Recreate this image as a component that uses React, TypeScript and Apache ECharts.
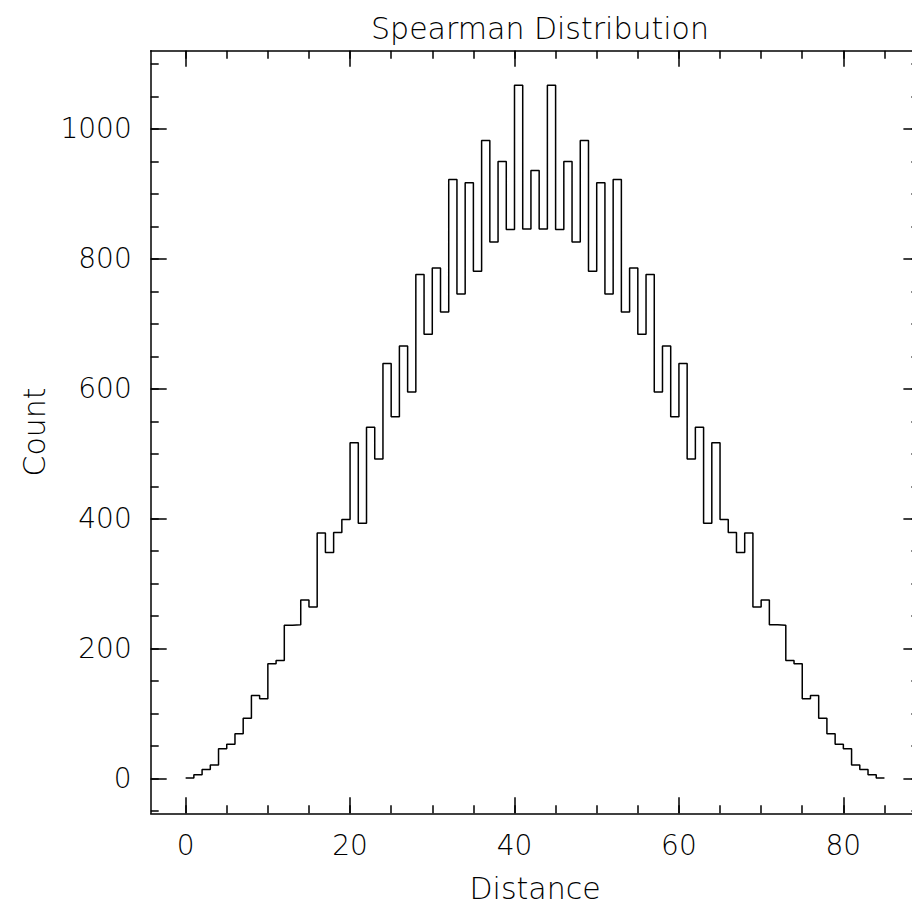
import React, { useEffect, useRef } from "react";
import * as echarts from "echarts";

// Histogram: bin i covers [i, i+1)
const counts: number[] = [
  1, 6, 14, 21, 46, 53, 69, 93, 128, 123,
  177, 182, 236, 237, 275, 264, 378, 348, 379, 399,
  517, 393, 541, 492, 639, 557, 666, 595, 776, 684,
  786, 718, 922, 746, 917, 781, 982, 826, 950, 845,
  1067, 846, 936, 846, 1067, 845, 950, 826, 982, 781,
  917, 746, 922, 718, 786, 684, 776, 595, 666, 557,
  639, 492, 541, 393, 517, 399, 379, 348, 378, 264,
  275, 237, 236, 182, 177, 123, 128, 93, 69, 53,
  46, 21, 14, 6, 1,
];
const binStart = 0;
const binWidth = 1;

const xMajorTicks = [0, 20, 40, 60, 80];
const xMinorTicks = [0, 5, 10, 15, 20, 25, 30, 35, 40, 45, 50, 55, 60, 65, 70, 75, 80, 85];
const yMajorTicks = [0, 200, 400, 600, 800, 1000];
const yMinorTicks = [-50, 0, 50, 100, 150, 200, 250, 300, 350, 400, 450, 500, 550, 600, 650, 700, 750, 800, 850, 900, 950, 1000, 1050, 1100];

const X_MIN = -4.25;
const X_MAX = 89.25;
const Y_MIN = -53.35;
const Y_MAX = 1120.35;

const TITLE = "Spearman Distribution";
const X_NAME = "Distance";
const Y_NAME = "Count";

const FONT = "'DejaVu Sans', sans-serif";

export default function App() {
  const ref = useRef<HTMLDivElement>(null);

  useEffect(() => {
    if (!ref.current) return;
    const chart = echarts.init(ref.current, undefined, { renderer: "svg" });

    const data: number[][] = counts.map((c, i) => [binStart + i * binWidth, c]);
    data.push([binStart + counts.length * binWidth, counts[counts.length - 1]]);

    const lineStyle = { color: "#000", width: 1.5 };
    const txt = { color: "#000", fontFamily: FONT, fontSize: 28, fontWeight: 200 as any };
    const nameTxt = { ...txt, fontSize: 30 };

    const mkX = (position: "top" | "bottom", major: boolean, main: boolean) => ({
      type: "value",
      position,
      min: X_MIN,
      max: X_MAX,
      axisLine: { show: main, onZero: false, lineStyle },
      axisTick: {
        show: true,
        inside: true,
        length: major ? 16 : 8,
        customValues: major ? xMajorTicks : xMinorTicks,
        lineStyle,
      },
      axisLabel: main && position === "bottom"
        ? { show: true, customValues: xMajorTicks, margin: 18, formatter: (v: number) => String(v), ...txt }
        : { show: false },
      splitLine: { show: false },
      ...(main && position === "bottom"
        ? { name: X_NAME, nameLocation: "middle", nameGap: 60, nameTextStyle: { ...nameTxt } }
        : {}),
    });

    const mkY = (position: "left" | "right", major: boolean, main: boolean) => ({
      type: "value",
      position,
      offset: 0,
      min: Y_MIN,
      max: Y_MAX,
      axisLine: { show: main, onZero: false, lineStyle },
      axisTick: {
        show: true,
        inside: true,
        length: major ? 16 : 8,
        customValues: major ? yMajorTicks : yMinorTicks,
        lineStyle,
      },
      axisLabel: main && position === "left"
        ? { show: true, customValues: yMajorTicks, margin: 19, formatter: (v: number) => String(v), ...txt }
        : { show: false },
      splitLine: { show: false },
      ...(main && position === "left"
        ? { name: Y_NAME, nameLocation: "middle", nameGap: 92, nameRotate: 90, nameTextStyle: { ...nameTxt } }
        : {}),
    });

    chart.setOption({
      animation: false,
      backgroundColor: "#fff",
      title: {
        text: TITLE,
        left: 535,
        top: 8,
        textAlign: "center",
        textStyle: { ...nameTxt },
      },
      grid: { left: 150.7, top: 50.7, width: 768.7, height: 762.6, containLabel: false },
      xAxis: [
        mkX("bottom", true, true),
        mkX("bottom", false, false),
        mkX("top", true, true),
        mkX("top", false, false),
      ],
      yAxis: [
        mkY("left", true, true),
        mkY("left", false, false),
        mkY("right", true, true),
        mkY("right", false, false),
      ],
      series: [
        {
          type: "line",
          step: "end",
          data,
          xAxisIndex: 0,
          yAxisIndex: 0,
          symbol: "none",
          lineStyle: { color: "#000", width: 1.5 },
        },
      ],
    });

    return () => chart.dispose();
  }, []);

  return (
    <div style={{ position: "fixed", left: 0, top: 0, width: 912, height: 909, overflow: "hidden", background: "#fff" }}>
      <div ref={ref} style={{ width: 930, height: 909 }} />
    </div>
  );
}
